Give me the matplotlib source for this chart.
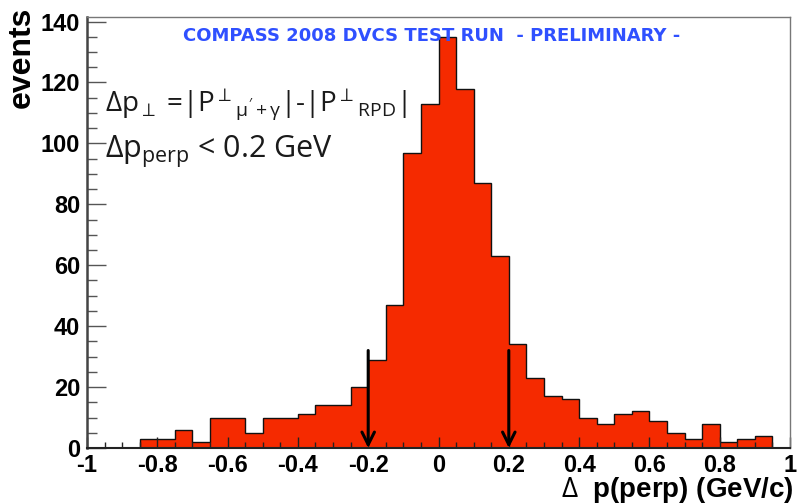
import matplotlib
matplotlib.use("Agg")
import matplotlib.pyplot as plt
from matplotlib.ticker import MultipleLocator
import numpy as np

# ---- data ----
bin_edges = np.round(np.arange(-1.0, 1.0001, 0.05), 2)
counts = [0, 0, 0, 3, 3, 6, 2, 10, 10, 5,
          10, 10, 11, 14, 14, 20, 29, 47, 97, 113,
          135, 118, 87, 63, 34, 23, 17, 16, 10, 8,
          11, 12, 9, 5, 3, 8, 2, 3, 4, 0]
arrow_x = [-0.2, 0.2]
arrow_top = 32
x_ticks = [-1, -0.8, -0.6, -0.4, -0.2, 0, 0.2, 0.4, 0.6, 0.8, 1]
x_ticklabels = ["-1", "-0.8", "-0.6", "-0.4", "-0.2", "0", "0.2", "0.4", "0.6", "0.8", "1"]
y_ticks = [0, 20, 40, 60, 80, 100, 120, 140]

plt.rcParams['font.family'] = ['Liberation Sans', 'DejaVu Sans']
plt.rcParams['mathtext.fontset'] = 'custom'
plt.rcParams['mathtext.rm'] = 'Open Sans'
plt.rcParams['mathtext.it'] = 'Open Sans:italic'
plt.rcParams['mathtext.bf'] = 'Open Sans:bold'

fig = plt.figure(figsize=(7.98, 5.04), dpi=100)
ax = fig.add_axes([87/798, 1-448/504, (790-87)/798, (448-17)/504])

ax.stairs(counts, bin_edges, fill=True, facecolor='#f52a00', edgecolor='none')
ax.stairs(counts, bin_edges, fill=False, edgecolor='#111111', linewidth=1.0)

ax.set_xlim(-1, 1)
ax.set_ylim(0, 141.5)

ax.set_xticks(x_ticks)
ax.set_xticklabels(x_ticklabels)
ax.set_yticks(y_ticks)
ax.xaxis.set_minor_locator(MultipleLocator(0.05))
ax.yaxis.set_minor_locator(MultipleLocator(5))
ax.tick_params(axis='y', which='major', direction='in', length=14, width=1.0, color='#555555',
               labelsize=17, pad=5)
ax.tick_params(axis='y', which='minor', direction='in', length=7, width=1.0, color='#555555')
ax.tick_params(axis='x', which='major', direction='in', length=8, width=1.0, color='#222222',
               labelsize=17, pad=4)
ax.tick_params(axis='x', which='minor', direction='in', length=4, width=1.0, color='#222222')
for lbl in ax.get_xticklabels() + ax.get_yticklabels():
    lbl.set_fontweight('bold')

for side in ['top', 'right']:
    ax.spines[side].set_color('#777777')
    ax.spines[side].set_linewidth(1.0)
ax.spines['left'].set_color('#444444')
ax.spines['left'].set_linewidth(1.8)
ax.spines['bottom'].set_color('#222222')
ax.spines['bottom'].set_linewidth(1.5)

for xa in arrow_x:
    ax.annotate('', xy=(xa, 0), xytext=(xa, arrow_top),
                arrowprops=dict(arrowstyle='->,head_length=0.9,head_width=0.45',
                                color='black', lw=2.2, shrinkA=0, shrinkB=0))

fig.text(432/798, 1-36/504, 'COMPASS 2008 DVCS TEST RUN  - PRELIMINARY -',
         color='#2f50ff', fontsize=13, fontweight='bold', ha='center', va='center',
         family=['DejaVu Sans'])

ax.text(105/798, 1-112/504,
        r"$\Delta$p$_{\perp}$ =|P$^{\perp}{}_{\mathrm{\mu'+\gamma}}$|-|P$^{\perp}{}_{\mathrm{RPD}}$|",
        transform=fig.transFigure, fontsize=20, color='#1a1a1a', family='Open Sans',
        ha='left', va='baseline')
ax.text(105/798, 1-158/504, r"$\Delta$p$_{\mathrm{perp}}$ < 0.2 GeV",
        transform=fig.transFigure, fontsize=22, color='#1a1a1a', family='Open Sans',
        ha='left', va='baseline')

fig.text(794/798, 1-497/504, r'$\Delta$  p(perp) (GeV/c)', fontsize=20, fontweight='bold',
         ha='right', va='baseline')
fig.text(22/798, 1-7/504, 'events', fontsize=23, fontweight='bold', rotation=90,
         ha='center', va='top')

fig.savefig('out.png', dpi=100)
